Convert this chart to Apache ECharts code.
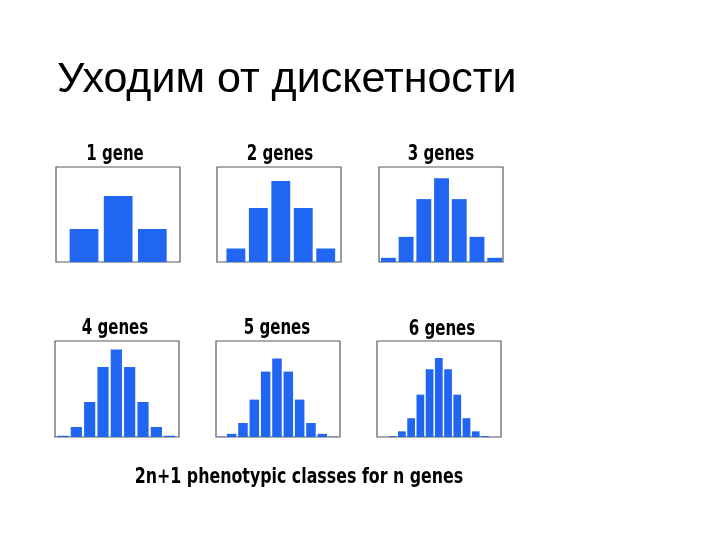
<!DOCTYPE html>
<html>
<head>
<meta charset="utf-8">
<script src="https://cdn.jsdelivr.net/npm/echarts@6/dist/echarts.min.js"></script>
<style>
html,body{margin:0;padding:0;background:#fff;}
#chart{width:720px;height:540px;}
</style>
</head>
<body>
<div id="chart"></div>
<script>
// Main title and captions
const mainTitle = 'Уходим от дискетности';
const caption = '2n+1 phenotypic classes for n genes';
const panelTitles = ['1 gene', '2 genes', '3 genes', '4 genes', '5 genes', '6 genes'];

// Phenotypic classes (position relative to the middle class) per panel
const classes1 = [-1, 0, 1];
const classes2 = [-2, -1, 0, 1, 2];
const classes3 = [-3, -2, -1, 0, 1, 2, 3];
const classes4 = [-4, -3, -2, -1, 0, 1, 2, 3, 4];
const classes5 = [-5, -4, -3, -2, -1, 0, 1, 2, 3, 4, 5];
const classes6 = [-6, -5, -4, -3, -2, -1, 0, 1, 2, 3, 4, 5, 6];

// Frequencies (%) of each class
const values1 = [25, 50, 25];
const values2 = [6.25, 25, 37.5, 25, 6.25];
const values3 = [1.56, 9.38, 23.44, 31.25, 23.44, 9.38, 1.56];
const values4 = [0.39, 3.13, 10.94, 21.88, 27.34, 21.88, 10.94, 3.13, 0.39];
const values5 = [0.1, 0.98, 4.39, 11.72, 20.51, 24.61, 20.51, 11.72, 4.39, 0.98, 0.1];
const values6 = [0.02, 0.29, 1.61, 5.37, 12.08, 19.34, 22.56, 19.34, 12.08, 5.37, 1.61, 0.29, 0.02];

const allClasses = [classes1, classes2, classes3, classes4, classes5, classes6];
const allValues = [values1, values2, values3, values4, values5, values6];

// Layout (styles / positions)
const grids = [
  {left: 56, top: 167, width: 124, height: 95},
  {left: 217, top: 167, width: 124, height: 95},
  {left: 379, top: 167, width: 124, height: 95},
  {left: 55, top: 341, width: 124, height: 96},
  {left: 216, top: 341, width: 124, height: 96},
  {left: 377, top: 341, width: 124, height: 96}
];
const xRanges = [[-1.82, 1.81], [-2.84, 2.68], [-3.53, 3.47], [-4.6, 4.7], [-5.38, 5.56], [-6.7, 6.74]];
const yMax = [72, 44, 35.4, 30, 30.1, 27.4];
const titlePos = [[115, 154], [280, 154], [441, 154], [115, 328], [277, 328], [442, 329]];

const barColor = '#2166f2';
const handFont = '"DejaVu Sans Condensed", "DejaVu Sans", sans-serif';

const chart = echarts.init(document.getElementById('chart'), null, {renderer: 'canvas'});

const option = {
  backgroundColor: '#ffffff',
  animation: false,
  grid: grids.map(g => Object.assign({show: true, borderColor: '#5a5a5a', borderWidth: 1.2, backgroundColor: 'transparent'}, g)),
  xAxis: grids.map((g, i) => ({
    type: 'value', gridIndex: i, min: xRanges[i][0], max: xRanges[i][1], show: false
  })),
  yAxis: grids.map((g, i) => ({
    type: 'value', gridIndex: i, min: 0, max: yMax[i], show: false
  })),
  series: allValues.map((vals, i) => ({
    type: 'bar',
    xAxisIndex: i,
    yAxisIndex: i,
    barWidth: '84%',
    itemStyle: {color: barColor},
    data: vals.map((v, k) => [allClasses[i][k], v])
  })),
  graphic: [
    {
      type: 'text', left: 57, top: 59,
      style: {text: mainTitle, fill: '#000', font: '43px "Liberation Sans", Arial, sans-serif'}
    },
    ...panelTitles.map((t, i) => ({
      type: 'text', x: titlePos[i][0], y: titlePos[i][1], scaleX: 0.76,
      style: {text: t, fill: '#000', font: 'bold 22px ' + handFont, textAlign: 'center', textVerticalAlign: 'middle'}
    })),
    {
      type: 'text', x: 299, y: 477, scaleX: 0.8,
      style: {text: caption, fill: '#000', font: 'bold 22px ' + handFont, textAlign: 'center', textVerticalAlign: 'middle'}
    }
  ]
};
chart.setOption(option);
</script>
</body>
</html>
